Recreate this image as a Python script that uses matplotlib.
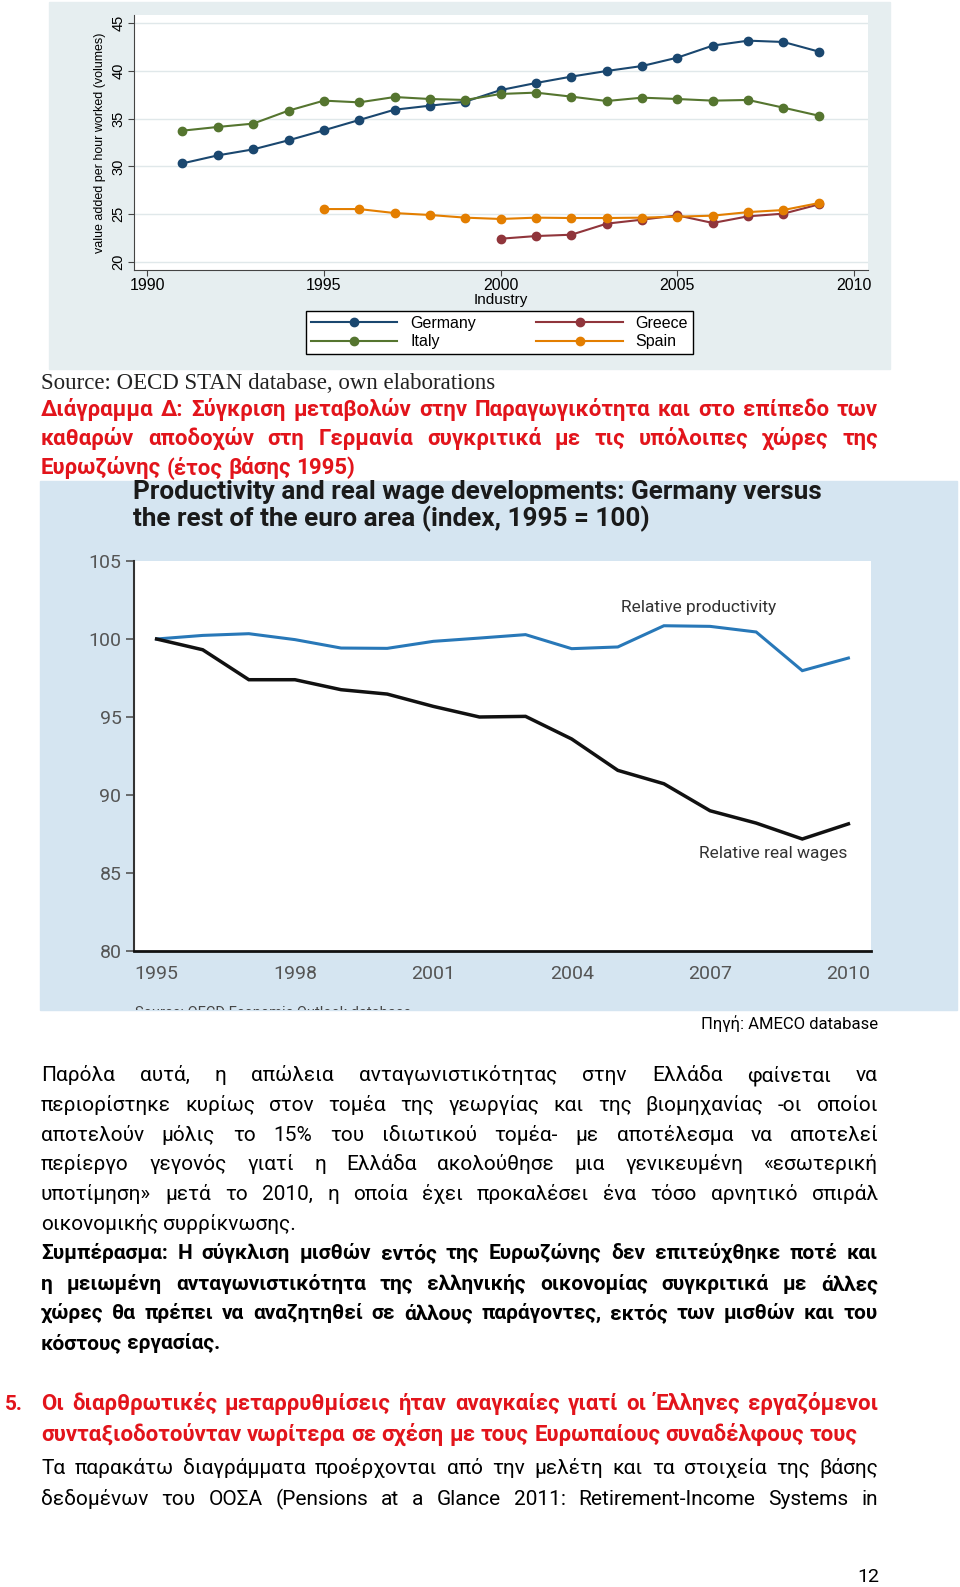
import matplotlib.pyplot as plt
from matplotlib.patches import Rectangle

# ---- chart 1: value added per hour worked, industry (OECD STAN) ----
years_de = list(range(1991, 2010))
germany = [30.31, 31.15, 31.78, 32.73, 33.78, 34.86, 35.94, 36.36, 36.78, 38.0,
           38.74, 39.41, 40.0, 40.52, 41.4, 42.66, 43.18, 43.04, 42.03]
italy = [33.74, 34.13, 34.48, 35.84, 36.89, 36.71, 37.27, 37.06, 36.96, 37.59,
         37.73, 37.31, 36.85, 37.2, 37.06, 36.89, 36.96, 36.15, 35.31]
years_es = list(range(1995, 2010))
spain = [25.52, 25.52, 25.1, 24.9, 24.62, 24.48, 24.62, 24.58, 24.58, 24.62,
         24.72, 24.83, 25.2, 25.42, 26.15]
years_gr = list(range(2000, 2010))
greece = [22.41, 22.69, 22.83, 23.99, 24.41, 24.86, 24.06, 24.76, 25.04, 26.01]
x_ticks1 = [1990, 1995, 2000, 2005, 2010]
y_ticks1 = [20, 25, 30, 35, 40, 45]

# ---- chart 2: Germany vs rest of euro area, index 1995 = 100 ----
years2 = list(range(1995, 2011))
productivity = [100.0, 100.23, 100.34, 99.96, 99.42, 99.40, 99.85, 100.06,
                100.28, 99.38, 99.49, 100.85, 100.81, 100.45, 97.97, 98.78]
wages = [100.0, 99.31, 97.39, 97.39, 96.75, 96.47, 95.68, 95.0,
         95.04, 93.59, 91.58, 90.72, 88.99, 88.2, 87.18, 88.15]
x_ticks2 = [1995, 1998, 2001, 2004, 2007, 2010]
y_ticks2 = [80, 85, 90, 95, 100, 105]

# ---- page text ----
heading_d = ["Διάγραμμα Δ: Σύγκριση μεταβολών στην Παραγωγικότητα και στο επίπεδο των",
             "καθαρών αποδοχών στη Γερμανία συγκριτικά με τις υπόλοιπες χώρες της",
             "Ευρωζώνης (έτος βάσης 1995)"]
body = ["Παρόλα αυτά, η απώλεια ανταγωνιστικότητας στην Ελλάδα φαίνεται να",
        "περιορίστηκε κυρίως στον τομέα της γεωργίας και της βιομηχανίας -οι οποίοι",
        "αποτελούν μόλις το 15% του ιδιωτικού τομέα- με αποτέλεσμα να αποτελεί",
        "περίεργο γεγονός γιατί η Ελλάδα ακολούθησε μια γενικευμένη «εσωτερική",
        "υποτίμηση» μετά το 2010, η οποία έχει προκαλέσει ένα τόσο αρνητικό σπιράλ",
        "οικονομικής συρρίκνωσης."]
conclusion = ["Συμπέρασμα: Η σύγκλιση μισθών εντός της Ευρωζώνης δεν επιτεύχθηκε ποτέ και",
              "η μειωμένη ανταγωνιστικότητα της ελληνικής οικονομίας συγκριτικά με άλλες",
              "χώρες θα πρέπει να αναζητηθεί σε άλλους παράγοντες, εκτός των μισθών και του",
              "κόστους εργασίας."]
heading_5 = ["Οι διαρθρωτικές μεταρρυθμίσεις ήταν αναγκαίες γιατί οι Έλληνες εργαζόμενοι",
             "συνταξιοδοτούνταν νωρίτερα σε σχέση με τους Ευρωπαίους συναδέλφους τους"]
last = ["Τα παρακάτω διαγράμματα προέρχονται από την μελέτη και τα στοιχεία της βάσης",
        "δεδομένων του ΟΟΣΑ (Pensions at a Glance 2011: Retirement-Income Systems in"]

W, H = 960, 1587
RED = '#e2141b'
TXT = 'Roboto'
fig = plt.figure(figsize=(W / 100, H / 100), dpi=100)
renderer = fig.canvas.get_renderer()


def fx(x):
    return x / W


def fy(y):
    return 1 - y / H


def measure(s, **kw):
    t = fig.text(0, 0, s, **kw)
    w = t.get_window_extent(renderer=renderer).width
    t.remove()
    return w


def paragraph(lines, x0, x1, baselines, size, justified, **kw):
    # shrink the size until every line fits, then spread the words
    for ln in lines:
        w = measure(ln, fontsize=size, **kw)
        if w > (x1 - x0) * 0.995:
            size = size * (x1 - x0) * 0.995 / w
    space = measure('a a', fontsize=size, **kw) - measure('aa', fontsize=size, **kw)
    for ln, yb, just in zip(lines, baselines, justified):
        words = ln.split()
        widths = [measure(w, fontsize=size, **kw) for w in words]
        gap = (x1 - x0 - sum(widths)) / (len(words) - 1) if just else space
        x = x0
        for word, wd in zip(words, widths):
            fig.text(fx(x), fy(yb), word, fontsize=size, ha='left', va='baseline', **kw)
            x += wd + gap
    return size


# ================= chart 1 =================
fig.add_artist(Rectangle((fx(49), fy(369)), (890 - 49) / W, (369 - 2) / H,
                         transform=fig.transFigure, color='#e6eef0', zorder=-2))
ax1 = fig.add_axes([fx(134), fy(270), (868 - 134) / W, (270 - 15) / H])
ax1.set_facecolor('white')
ax1.plot(years_de, germany, '-o', color='#1a476f', ms=6, lw=1.5, label='Germany')
ax1.plot(years_de, italy, '-o', color='#55752f', ms=6, lw=1.5, label='Italy')
ax1.plot(years_gr, greece, '-o', color='#90353b', ms=6, lw=1.5, label='Greece')
ax1.plot(years_es, spain, '-o', color='#e37e00', ms=6, lw=1.5, label='Spain')
ax1.set_xlim(1989.63, 2010.39)
ax1.set_ylim(19.13, 45.87)
ax1.set_xticks(x_ticks1)
ax1.set_yticks(y_ticks1)
ax1.grid(axis='y', color='#e0e8ea', lw=1)
ax1.set_axisbelow(True)
for s in ['top', 'right']:
    ax1.spines[s].set_visible(False)
for s in ['left', 'bottom']:
    ax1.spines[s].set_color('#444')
ax1.tick_params(axis='x', labelsize=11.5, length=4, color='#444', pad=1.5,
                labelfontfamily='Liberation Sans')
ax1.tick_params(axis='y', labelsize=10.5, length=4, color='#444', pad=2,
                labelrotation=90, labelfontfamily='Liberation Sans')
for lb in ax1.get_yticklabels():
    lb.set_va('center')
ax1.set_xlabel('Industry', fontsize=11, family='Liberation Sans', labelpad=0)
ax1.set_ylabel('value added per hour worked (volumes)', fontsize=9,
               family='Liberation Sans', labelpad=4)
h, l = ax1.get_legend_handles_labels()
leg = fig.legend(h, l, loc='center', bbox_to_anchor=(fx(499.5), fy(332.5)),
                 bbox_transform=fig.transFigure, ncol=2, frameon=True,
                 fancybox=False, edgecolor='black', framealpha=1,
                 prop={'family': 'Liberation Sans', 'size': 11.5},
                 handlelength=5.4, columnspacing=3.8, labelspacing=0.25,
                 borderpad=0.3, handletextpad=0.8)
leg.get_frame().set_linewidth(1)

fig.text(fx(41), fy(389), 'Source: OECD STAN database, own elaborations',
         family='Liberation Serif', fontsize=16.5, color='#222', va='baseline')

paragraph(heading_d, 41, 878, [416, 445, 474], 16, [True, True, False],
          family=TXT, weight='bold', color=RED)

# ================= chart 2 =================
bg2 = Rectangle((fx(40), fy(1010)), (957 - 40) / W, (1010 - 481) / H,
                transform=fig.transFigure, color='#d5e5f1', zorder=-2)
fig.add_artist(bg2)
fig.text(fx(133), fy(499), 'Productivity and real wage developments: Germany versus',
         family='Roboto', weight='bold', fontsize=18.8, color='#1a1a1a', va='baseline')
fig.text(fx(133), fy(526), 'the rest of the euro area (index, 1995 = 100)',
         family='Roboto', weight='bold', fontsize=18.8, color='#1a1a1a', va='baseline')
src = fig.text(fx(135), fy(1017), 'Source: OECD Economic Outlook database',
               family='Roboto', fontsize=10.5, color='#444', va='baseline')
src.set_clip_path(bg2)

ax2 = fig.add_axes([fx(134), fy(951), (871 - 134) / W, (951 - 561) / H])
ax2.set_facecolor('white')
ax2.plot(years2, productivity, color='#2878b8', lw=2.2, solid_joinstyle='miter')
ax2.plot(years2, wages, color='#111111', lw=2.5, solid_joinstyle='miter')
ax2.set_xlim(1994.51, 2010.49)
ax2.set_ylim(80, 105)
ax2.set_xticks(x_ticks2)
ax2.set_yticks(y_ticks2)
for s in ['top', 'right']:
    ax2.spines[s].set_visible(False)
ax2.spines['left'].set_color('#333')
ax2.spines['left'].set_linewidth(1.5)
ax2.spines['bottom'].set_color('#111')
ax2.spines['bottom'].set_linewidth(2)
ax2.tick_params(axis='x', length=0, pad=10, labelsize=14, labelcolor='#555',
                labelfontfamily='Roboto')
ax2.tick_params(axis='y', length=6, width=1.2, color='#555', pad=3, labelsize=14,
                labelcolor='#555', labelfontfamily='Roboto')
ax2.text(2006.76, 101.99, 'Relative productivity', family='Roboto', fontsize=12.5,
         color='#333', ha='center', va='center')
ax2.text(2008.38, 86.28, 'Relative real wages', family='Roboto', fontsize=12.5,
         color='#333', ha='center', va='center')

fig.text(fx(878), fy(1029), 'Πηγή: AMECO database', family=TXT,
         fontsize=12, ha='right', va='baseline')

# ================= body text =================
paragraph(body, 41, 878, [1081, 1111, 1141, 1170, 1200, 1230],
          15, [True] * 5 + [False], family=TXT, color='black')
paragraph(conclusion, 41, 878, [1259, 1290, 1319, 1349],
          15, [True, True, True, False], family=TXT, weight='bold', color='black')
fig.text(fx(5), fy(1410), '5.', family=TXT, weight='bold', fontsize=15,
         color=RED, va='baseline')
paragraph(heading_5, 41, 878, [1410, 1441], 16, [True, False],
          family=TXT, weight='bold', color=RED)
paragraph(last, 41, 878, [1474, 1505], 15, [True, True],
          family=TXT, color='black')
fig.text(fx(868), fy(1582), '12', family=TXT, fontsize=14,
         ha='center', va='baseline')

fig.savefig('out.png', dpi=100)
